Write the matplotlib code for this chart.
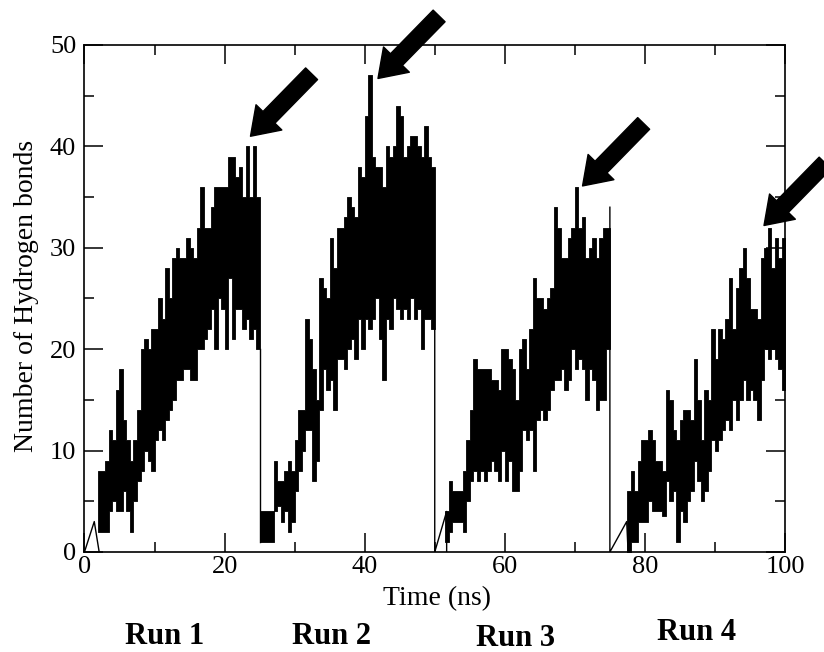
import numpy as np
import matplotlib.pyplot as plt

# number of hydrogen bonds, upper / lower envelope in 0.5 ns bins
bin_width = 0.5

run1_start = 2.0
run1_hi = [8, 8, 9, 12, 11, 16, 18, 13, 11, 9, 11, 14, 20, 21, 20, 22, 22, 25, 23, 28,
           25, 29, 30, 29, 29, 31, 30, 29, 32, 36, 32, 32, 34, 36, 36, 36, 36, 39, 39, 37,
           38, 35, 40, 35, 40, 35]
run1_lo = [2, 2, 2, 4, 5, 4, 4, 6, 4, 2, 5, 7, 8, 10, 9, 8, 11, 12, 11, 13,
           14, 15, 17, 17, 18, 18, 17, 17, 20, 20, 21, 22, 24, 20, 25, 24, 20, 27, 21, 24,
           24, 22, 23, 21, 22, 20]

run2_start = 25.0
run2_hi = [4, 4, 4, 4, 9, 7, 7, 8, 9, 8, 11, 14, 14, 23, 21, 18, 15, 27, 26, 25,
           31, 28, 32, 32, 33, 35, 34, 33, 38, 37, 43, 47, 39, 38, 38, 36, 40, 39, 40, 44,
           43, 39, 40, 41, 41, 40, 39, 42, 39, 38]
run2_lo = [1, 1, 1, 1, 4, 4.5, 3, 4, 2, 3, 6, 8, 10, 12, 12, 7, 9, 14, 18, 16,
           17, 14, 19, 19, 18, 20, 21, 19, 23, 20, 23, 22, 23, 25, 21, 17, 23, 22, 25, 24,
           23, 24, 23, 25, 23, 24, 20, 23, 23, 22]

run3_start = 51.5
run3_hi = [4, 7, 6, 6, 6, 8, 11, 14, 19, 18, 18, 18, 18, 17, 17, 16, 20, 20, 19, 18,
           15, 20, 21, 18, 22, 27, 25, 25, 24, 25, 26, 34, 32, 29, 29, 31, 32, 36, 32, 33,
           29, 30, 31, 29, 31, 32, 32]
run3_lo = [1, 2, 3, 3, 3, 2, 5, 7, 8, 7, 8, 7, 8, 9, 8, 7, 10, 7, 9, 6,
           6, 8, 12, 11, 12, 8, 13, 14, 13, 14, 16, 17, 17, 18, 16, 17, 20, 18, 19, 18,
           15, 18, 17, 14, 15, 15, 20]

run4_start = 77.5
run4_hi = [6, 8, 6, 9, 11, 11, 12, 11, 9, 9, 8, 16, 15, 12, 11, 13, 14, 14, 13, 19,
           15, 11, 16, 15, 22, 19, 22, 21, 23, 27, 22, 26, 28, 30, 27, 24, 24, 23, 29, 30,
           32, 28, 31, 29, 31]
run4_lo = [0, 1, 1, 3, 3, 3, 5, 4, 4, 4, 3.5, 7, 5, 6, 1, 4, 3, 5, 6, 9,
           7, 5, 6, 8, 11, 10, 11, 12, 13, 12, 15, 13, 15, 17, 15, 16, 15, 13, 17, 20,
           19, 20, 19, 18, 16]

# thin line pieces: run starts and the drops between runs
lead_t = [[0, 1.4, 2.1], [25, 25], [50, 50, 51.7, 51.7], [75, 75, 77.4, 77.6]]
lead_v = [[0, 3, 0], [20, 1], [22, 0, 4, 0], [34, 0, 3, 0]]

# arrow tips (time, value) pointing at the maxima
arrow_t = [23.7, 41.9, 71.1, 97.0]
arrow_v = [41.0, 46.7, 36.1, 32.2]

run_labels = ['Run 1', 'Run 2', 'Run 3', 'Run 4']


def main():
    plt.rcParams['font.family'] = ['Liberation Serif', 'DejaVu Serif']
    plt.rcParams['xtick.direction'] = 'in'
    plt.rcParams['ytick.direction'] = 'in'

    fig = plt.figure(figsize=(8.24, 6.52), dpi=100)
    ax = fig.add_axes([0.1025, 0.1534, 0.8502, 0.7776])

    runs = [(run1_start, run1_hi, run1_lo), (run2_start, run2_hi, run2_lo),
            (run3_start, run3_hi, run3_lo), (run4_start, run4_hi, run4_lo)]
    for start, hi, lo in runs:
        t = start + bin_width * np.arange(len(hi) + 1)
        hi = np.append(hi, hi[-1])
        lo = np.append(lo, lo[-1])
        ax.fill_between(t, lo, hi, step='post', color='black', lw=0.6,
                        edgecolor='black')
    for t, v in zip(lead_t, lead_v):
        ax.plot(t, v, color='black', lw=1.0)

    for t, v in zip(arrow_t, arrow_v):
        ax.annotate('', xy=(t, v), xytext=(44, 45), textcoords='offset points',
                    annotation_clip=False,
                    arrowprops=dict(arrowstyle='simple,head_length=1.9,head_width=2.6,tail_width=1.2',
                                    mutation_scale=10, fc='black', ec='black',
                                    shrinkA=0, shrinkB=0))

    ax.set_xlim(0, 100)
    ax.set_ylim(0, 50)
    ax.set_xticks(np.arange(0, 101, 20))
    ax.set_xticks(np.arange(0, 101, 10), minor=True)
    ax.set_yticks(np.arange(0, 51, 10))
    ax.set_yticks(np.arange(0, 51, 5), minor=True)
    ax.tick_params(which='both', top=True, right=True, width=1.1,
                   labelsize=19)
    ax.tick_params(which='major', length=14)
    ax.tick_params(which='minor', length=7)
    ax.tick_params(axis='x', pad=3)
    ax.tick_params(axis='y', pad=6)
    for s in ax.spines.values():
        s.set_linewidth(1.2)

    ax.set_xlabel('Time (ns)', fontsize=20)
    ax.set_ylabel('Number of Hydrogen bonds', fontsize=20)
    ax.xaxis.set_label_coords(0.503, -0.068)
    ax.yaxis.set_label_coords(-0.065, 0.505)

    label_x = [165, 332, 515, 697]
    label_y = [636, 636, 638, 632]
    for lab, x, y in zip(run_labels, label_x, label_y):
        fig.text(x / 824, 1 - y / 652, lab, fontsize=22, fontweight='bold',
                 ha='center', va='center')

    plt.savefig('out.png', dpi=100)
    plt.close()


if __name__ == '__main__':
    main()
